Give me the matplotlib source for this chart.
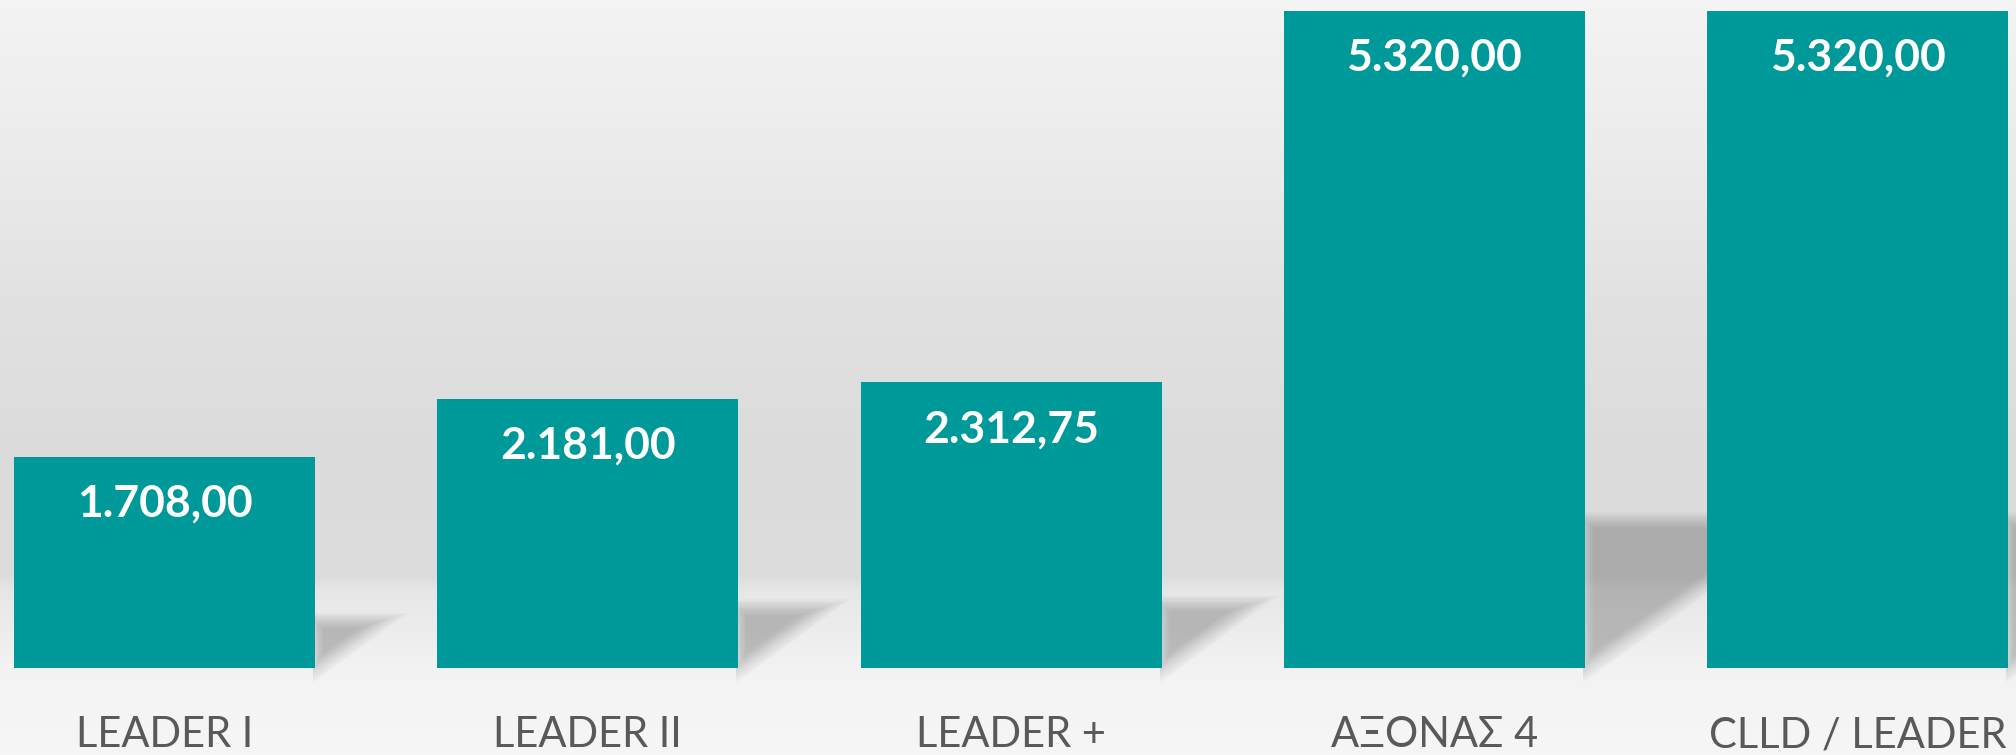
import matplotlib
matplotlib.use("Agg")
import matplotlib.pyplot as plt
import numpy as np
from matplotlib.patches import Polygon

categories = ["LEADER I", "LEADER II", "LEADER +", "ΑΞΟΝΑΣ 4", "CLLD / LEADER"]
values = [1708.00, 2181.00, 2312.75, 5320.00, 5320.00]
value_labels = ["1.708,00", "2.181,00", "2.312,75", "5.320,00", "5.320,00"]

W, H, DPI = 2016, 755, 100
BOTTOM_PX = 87          # pixels below the value axis baseline
PLOT_H_PX = H - BOTTOM_PX
bar_color = "#009999"
label_color = "#595959"

fig = plt.figure(figsize=(W / DPI, H / DPI), dpi=DPI)

# background gradient
bg = fig.add_axes([0, 0, 1, 1])
bg.set_axis_off()
stops_px = [0, 150, 300, 450, 576, 590, 668, 755]
stops_v = [0.955, 0.925, 0.885, 0.86, 0.865, 0.905, 0.952, 0.965]
rows = np.interp(np.arange(H), stops_px, stops_v)
img = np.repeat(rows[:, None], 4, axis=1)
bg.imshow(np.dstack([img, img, img]), aspect="auto", extent=[0, 1, 0, 1],
          interpolation="bilinear")
bg.set_xlim(0, 1)
bg.set_ylim(0, 1)

ax = fig.add_axes([0, BOTTOM_PX / H, 1, PLOT_H_PX / H])
ax.patch.set_alpha(0)
x = np.arange(len(categories))
width = 0.711
ymax = 5407
ax.set_xlim(-0.389, 4.3745)
ax.set_ylim(0, ymax)

# pixel -> data conversion
px_x = (ax.get_xlim()[1] - ax.get_xlim()[0]) / W
px_y = ymax / PLOT_H_PX

# soft shadows to the right of each bar (triangle, blurred by layered insets)
for xi, v in zip(x, values):
    h_px = v / px_y
    R = xi + width / 2
    sh = 0.225 * h_px
    sw = 0.32 * h_px
    tri = np.array([[0, 0], [0, sh], [sw, sh]], dtype=float)
    a, b = sw, sh
    c = np.hypot(a, b)
    r = (a + b - c) / 2
    la = np.hypot(*(tri[1] - tri[2]))
    lb = np.hypot(*(tri[0] - tri[2]))
    lc = np.hypot(*(tri[0] - tri[1]))
    inc = (la * tri[0] + lb * tri[1] + lc * tri[2]) / (la + lb + lc)
    blur = min(8.0, 0.8 * r)
    for d in np.linspace(-blur, blur, 14):
        s = (r - d) / r
        pts = inc + (tri - inc) * s
        pts[:, 0] = np.maximum(pts[:, 0], -2)
        data = np.column_stack([R + pts[:, 0] * px_x, pts[:, 1] * px_y])
        ax.add_patch(Polygon(data, closed=True, facecolor="#666666",
                             edgecolor="none", alpha=0.033, zorder=1,
                             clip_on=False))

bars = ax.bar(x, values, width=width, color=bar_color, zorder=2, linewidth=0)

for xi, v, lab in zip(x, values, value_labels):
    ax.annotate(lab, xy=(xi, v), xytext=(0, -60), textcoords="offset pixels",
                ha="center", va="baseline", color="white", fontsize=32,
                fontweight="bold", family="Lato", zorder=3)

ax.set_xticks(x)
ax.set_xticklabels(categories, fontsize=30, color=label_color, family="Lato")
ax.tick_params(axis="x", length=0, pad=79 * 72 / DPI)
for t in ax.get_xticklabels():
    t.set_verticalalignment("baseline")
ax.set_yticks([])
for s in ax.spines.values():
    s.set_visible(False)

fig.savefig("out.png", dpi=DPI)
